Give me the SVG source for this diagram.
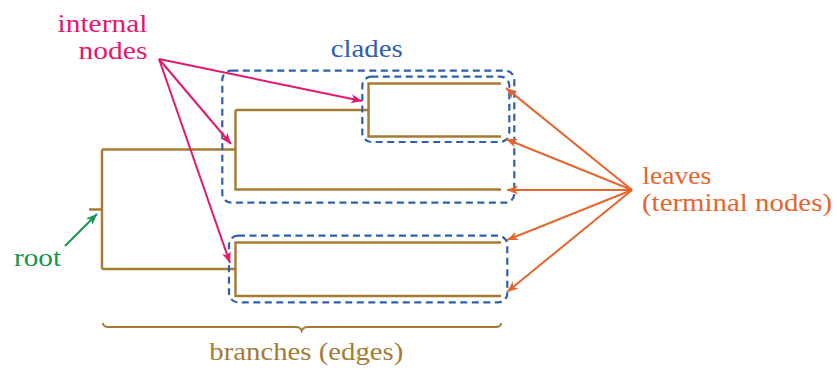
<svg xmlns="http://www.w3.org/2000/svg" width="837" height="370" viewBox="0 0 837 370">
<style>
.br{fill:none;stroke:#a57b34;stroke-width:2.4;stroke-linecap:butt;stroke-linejoin:miter}
.cl{fill:none;stroke:#2f60ab;stroke-width:2.2;stroke-dasharray:7 4.5}
.t{font-family:'Liberation Serif',serif;font-size:25px}
.pk{stroke:#e4176f;stroke-width:2;fill:none}
.or{stroke:#e6642d;stroke-width:2;fill:none}
.gr{stroke:#149652;stroke-width:2;fill:none}
</style>
<defs>
<marker id="mp" markerUnits="userSpaceOnUse" markerWidth="12" markerHeight="10" refX="11" refY="4.5" orient="auto"><path d="M0,0 L11,4.5 L0,9 L3,4.5 Z" fill="#e4176f"/></marker>
<marker id="mo" markerUnits="userSpaceOnUse" markerWidth="12" markerHeight="10" refX="11" refY="4.5" orient="auto"><path d="M0,0 L11,4.5 L0,9 L3,4.5 Z" fill="#e6642d"/></marker>
<marker id="mg" markerUnits="userSpaceOnUse" markerWidth="12" markerHeight="10" refX="11" refY="4.5" orient="auto"><path d="M0,0 L11,4.5 L0,9 L3,4.5 Z" fill="#149652"/></marker>
</defs>
<g id="tree">
<path class="br" d="M89,209.5 H102 M102,149.5 V269 M102,149.5 H235.5 M102,269 H235.5"/>
<path class="br" d="M501,83.5 H368.5 V136.5 H501 M368.5,110 H235.5 M235.5,110 V189.5 H501"/>
<path class="br" d="M501,242.5 H235.5 V296 H501"/>
</g>
<g id="clades">
<rect class="cl" x="222.3" y="70.7" width="292" height="132" rx="9"/>
<rect class="cl" x="362.3" y="76.7" width="147" height="65.3" rx="9"/>
<rect class="cl" x="229" y="235.7" width="278.3" height="66.6" rx="9"/>
<text class="t" font-family="Liberation Serif" x="330.7" y="57" textLength="72" lengthAdjust="spacingAndGlyphs" fill="#2f60ab">clades</text>
</g>
<g id="internal-nodes">
<text class="t" font-family="Liberation Serif" x="57.5" y="32" textLength="90" lengthAdjust="spacingAndGlyphs" fill="#e4176f">internal</text>
<text class="t" font-family="Liberation Serif" x="78.5" y="58.5" textLength="69" lengthAdjust="spacingAndGlyphs" fill="#e4176f">nodes</text>
</g>
<g id="leaves">
<text class="t" font-family="Liberation Serif" x="642.3" y="184" textLength="69" lengthAdjust="spacingAndGlyphs" fill="#e6642d">leaves</text>
<text class="t" font-family="Liberation Serif" x="642" y="211" textLength="190" lengthAdjust="spacingAndGlyphs" fill="#e6642d">(terminal nodes)</text>
</g>
<g id="root">
<text class="t" font-family="Liberation Serif" x="14" y="266" textLength="47" lengthAdjust="spacingAndGlyphs" fill="#149652">root</text>
</g>
<g id="branches">
<path class="br" style="stroke-width:1.8" d="M102.7,323 Q103.5,327 108,327 H296 Q300.5,327 301.7,331 Q303,327 307.5,327 H496 Q500.5,327 501.5,323"/>
<text class="t" font-family="Liberation Serif" x="209.3" y="360" textLength="194" lengthAdjust="spacingAndGlyphs" fill="#a57b34">branches (edges)</text>
</g>
<g id="connectors">
<line class="pk" x1="159" y1="59" x2="362" y2="101" marker-end="url(#mp)"/>
<line class="pk" x1="159" y1="59" x2="231" y2="144" marker-end="url(#mp)"/>
<line class="pk" x1="159" y1="59" x2="230" y2="263" marker-end="url(#mp)"/>
<line class="or" x1="632" y1="190" x2="506" y2="88" marker-end="url(#mo)"/>
<line class="or" x1="632" y1="190" x2="506" y2="139" marker-end="url(#mo)"/>
<line class="or" x1="632" y1="190" x2="507" y2="190" marker-end="url(#mo)"/>
<line class="or" x1="632" y1="190" x2="507" y2="240" marker-end="url(#mo)"/>
<line class="or" x1="632" y1="190" x2="507" y2="292" marker-end="url(#mo)"/>
<line class="gr" x1="65" y1="246" x2="97" y2="214" marker-end="url(#mg)"/>
</g>
</svg>
